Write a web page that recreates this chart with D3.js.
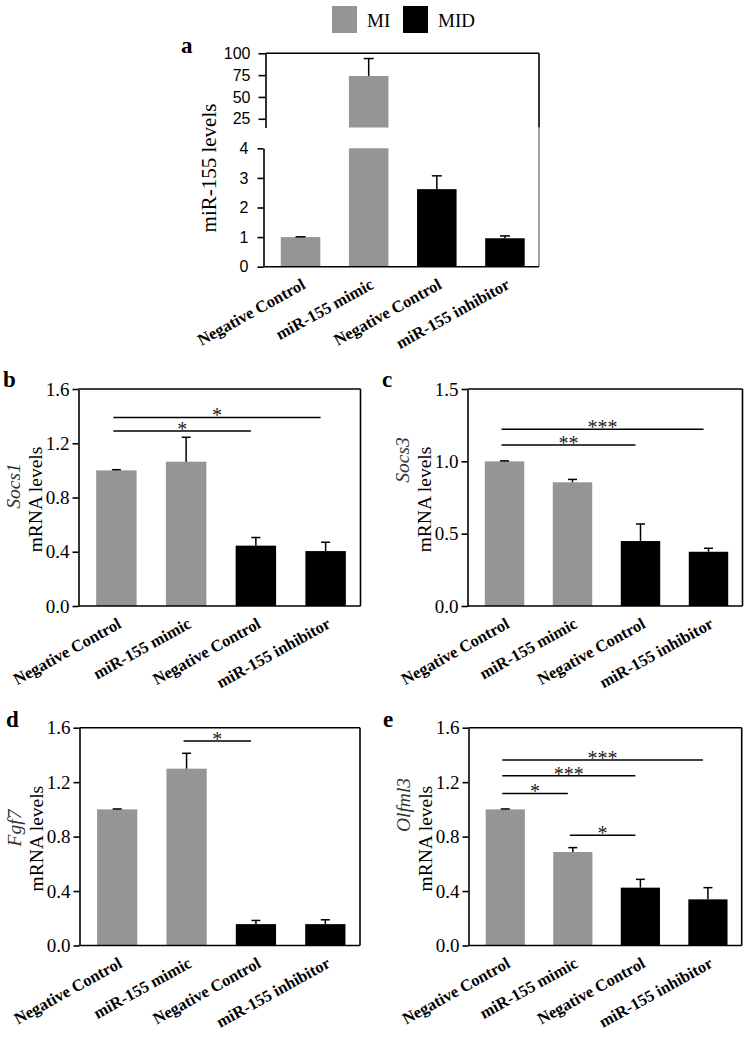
<!DOCTYPE html>
<html><head><meta charset="utf-8">
<script src="https://cdn.jsdelivr.net/npm/d3@7"></script>
<style>body{margin:0;background:#fff}svg{display:block}</style>
</head><body><svg id="chart" width="750" height="1039"></svg>
<script>
// ---------------- DATA ----------------
const categories = ["Negative Control", "miR-155 mimic", "Negative Control", "miR-155 inhibitor"];
const groups = ["MI", "MI", "MID", "MID"];
const legendLabels = ["MI", "MID"];

const mir155Mean = [1.0, 74, 2.62, 0.96];
const mir155Err  = [0.01, 20, 0.45, 0.08];

const socs1Mean = [1.0, 1.064, 0.445, 0.405];
const socs1Err  = [0.005, 0.18, 0.06, 0.065];

const socs3Mean = [1.0, 0.855, 0.449, 0.375];
const socs3Err  = [0.003, 0.02, 0.118, 0.024];

const fgf7Mean = [1.0, 1.299, 0.157, 0.157];
const fgf7Err  = [0.003, 0.113, 0.027, 0.032];

const olfml3Mean = [1.0, 0.687, 0.425, 0.339];
const olfml3Err  = [0.003, 0.032, 0.061, 0.086];

const ticksAUpper = [25, 50, 75, 100];
const ticksALower = [0, 1, 2, 3, 4];
const ticks16 = [0, 0.4, 0.8, 1.2, 1.6];
const ticks15 = [0, 0.5, 1.0, 1.5];

const socs1Sig  = [{from: 0, to: 3, y: 1.39, label: "*"}, {from: 0, to: 2, y: 1.29, label: "*"}];
const socs3Sig  = [{from: 0, to: 3, y: 1.221, label: "***"}, {from: 0, to: 2, y: 1.113, label: "**"}];
const fgf7Sig   = [{from: 1, to: 2, y: 1.502, label: "*"}];
const olfml3Sig = [{from: 0, to: 3, y: 1.362, label: "***"}, {from: 0, to: 2, y: 1.247, label: "***"},
                   {from: 0, to: 1, y: 1.117, label: "*"}, {from: 1, to: 2, y: 0.81, label: "*"}];

// ---------------- STYLE ----------------
const color = d3.scaleOrdinal().domain(legendLabels).range(["#959595", "#000000"]);
const SERIF = "Liberation Serif, Times New Roman, serif";
const SANS = "Liberation Sans, Arial, sans-serif";
const AX = 1.6;

const svg = d3.select("#chart");

// legend
const leg = svg.append("g");
const legX = d3.scaleOrdinal().domain(legendLabels).range([332, 403]);
legendLabels.forEach(l => {
  leg.append("rect").attr("x", legX(l)).attr("y", 6).attr("width", 25).attr("height", 27).attr("fill", color(l));
  leg.append("text").attr("x", legX(l) + 35).attr("y", 27).text(l)
    .style("font-family", SERIF).attr("font-size", 19).attr("fill", "#000");
});

function panelLetter(t, x, y) {
  svg.append("text").attr("x", x).attr("y", y).text(t)
    .style("font-family", SERIF).attr("font-weight", "bold").attr("font-size", 23).attr("fill", "#000");
}

function xLabels(g, x, yBase) {
  g.selectAll("text.cat").data(categories).enter().append("text")
    .attr("class", "cat")
    .attr("text-anchor", "end")
    .attr("transform", (d, i) => `translate(${x(i) + x.bandwidth() / 2 + 6},${yBase + 21}) rotate(-29)`)
    .style("font-family", SERIF).attr("font-weight", "bold").attr("font-size", 16.5).attr("fill", "#000")
    .text(d => d);
}

function styleAxis(ax, font, size) {
  ax.select(".domain").attr("stroke", "#000").attr("stroke-width", AX);
  ax.selectAll(".tick line").attr("stroke", "#000").attr("stroke-width", AX);
  ax.selectAll(".tick text").style("font-family", font).attr("font-size", size).attr("fill", "#000");
}

// ---------------- PANEL a ----------------
(function () {
  const x0 = 263.5, x1 = 539;
  const g = svg.append("g");
  const x = d3.scaleBand().domain(d3.range(4)).range([x0 + 3, x1]).paddingInner(0.42).paddingOuter(0.21);
  const yU = d3.scaleLinear().domain([15, 100]).range([127.5, 53.3]);
  const yL = d3.scaleLinear().domain([0, 4]).range([266.7, 148.3]);
  const bw = x.bandwidth();

  mir155Mean.forEach((v, i) => {
    const vv = Math.min(v, 4);
    const cx = x(i) + bw / 2;
    g.append("rect").attr("x", x(i)).attr("y", yL(vv)).attr("width", bw).attr("height", yL(0) - yL(vv))
      .attr("fill", color(groups[i]));
    const ys = v <= 4 ? yL : yU;
    if (v > 4) {
      g.append("rect").attr("x", x(i)).attr("y", yU(v)).attr("width", bw).attr("height", yU(15) - yU(v))
        .attr("fill", color(groups[i]));
    }
    const top = ys(v + mir155Err[i]);
    g.append("line").attr("x1", cx).attr("x2", cx).attr("y1", ys(v)).attr("y2", top)
      .attr("stroke", "#000").attr("stroke-width", 1.5);
    g.append("line").attr("x1", cx - 5).attr("x2", cx + 5).attr("y1", top).attr("y2", top)
      .attr("stroke", "#000").attr("stroke-width", 1.5);
  });

  const axU = g.append("g").attr("transform", `translate(${x0 + 2},0)`)
    .call(d3.axisLeft(yU).tickValues(ticksAUpper).tickFormat(d3.format("d")).tickSize(7).tickSizeOuter(0).tickPadding(8));
  styleAxis(axU, SANS, 16);
  const axL = g.append("g").attr("transform", `translate(${x0},0)`)
    .call(d3.axisLeft(yL).tickValues(ticksALower).tickFormat(d3.format("d")).tickSize(6).tickSizeOuter(0).tickPadding(9));
  styleAxis(axL, SANS, 16);

  g.append("line").attr("x1", x0 + 2).attr("x2", x1).attr("y1", yU(100)).attr("y2", yU(100)).attr("stroke", "#000").attr("stroke-width", AX);
  g.append("line").attr("x1", x1).attr("x2", x1).attr("y1", yU(100)).attr("y2", yU(15)).attr("stroke", "#000").attr("stroke-width", AX);
  g.append("line").attr("x1", x1).attr("x2", x1).attr("y1", yU(15)).attr("y2", yL(0)).attr("stroke", "#555").attr("stroke-width", 1.1);
  g.append("line").attr("x1", x0).attr("x2", x1).attr("y1", yL(0)).attr("y2", yL(0)).attr("stroke", "#000").attr("stroke-width", AX);

  g.append("text").attr("transform", `translate(216,168) rotate(-90)`).attr("text-anchor", "middle")
    .style("font-family", SERIF).attr("font-size", 21).attr("fill", "#000").text("miR-155 levels");

  xLabels(g, x, yL(0));
  panelLetter("a", 181, 53);
})();

// ---------------- PANELS b-e ----------------
function drawPanel(o) {
  const g = svg.append("g");
  const x = d3.scaleBand().domain(d3.range(4)).range([o.x0 + 3, o.x1]).paddingInner(0.42).paddingOuter(0.21);
  const y = d3.scaleLinear().domain([0, o.max]).range([o.y1, o.y0]);
  const bw = x.bandwidth();
  const cx = i => x(i) + bw / 2;

  g.selectAll("rect.bar").data(o.mean).enter().append("rect").attr("class", "bar")
    .attr("x", (d, i) => x(i)).attr("y", d => y(d)).attr("width", bw).attr("height", d => y(0) - y(d))
    .attr("fill", (d, i) => color(groups[i]));

  o.mean.forEach((v, i) => {
    const top = y(v + o.err[i]);
    g.append("line").attr("x1", cx(i)).attr("x2", cx(i)).attr("y1", y(v)).attr("y2", top).attr("stroke", "#000").attr("stroke-width", 1.5);
    g.append("line").attr("x1", cx(i) - 4.5).attr("x2", cx(i) + 4.5).attr("y1", top).attr("y2", top).attr("stroke", "#000").attr("stroke-width", 1.5);
  });

  const ax = g.append("g").attr("transform", `translate(${o.x0},0)`)
    .call(d3.axisLeft(y).tickValues(o.ticks).tickFormat(d3.format(".1f")).tickSize(6).tickSizeOuter(0).tickPadding(3));
  styleAxis(ax, SERIF, 19);

  g.append("line").attr("x1", o.x0).attr("x2", o.x1).attr("y1", o.y0).attr("y2", o.y0).attr("stroke", "#000").attr("stroke-width", AX);
  g.append("line").attr("x1", o.x1).attr("x2", o.x1).attr("y1", o.y0).attr("y2", o.y1).attr("stroke", "#000").attr("stroke-width", AX);
  g.append("line").attr("x1", o.x0).attr("x2", o.x1).attr("y1", o.y1).attr("y2", o.y1).attr("stroke", "#000").attr("stroke-width", AX);

  o.sig.forEach(s => {
    const xa = cx(s.from) - 3, xb = cx(s.to) - 5;
    g.append("line").attr("x1", xa).attr("x2", xb).attr("y1", y(s.y)).attr("y2", y(s.y)).attr("stroke", "#000").attr("stroke-width", 1.5);
    g.append("text").attr("x", (xa + xb) / 2).attr("y", y(s.y) + 5).attr("text-anchor", "middle")
      .style("font-family", SERIF).attr("font-size", 20).attr("fill", "#222").text(s.label);
  });

  const mid = (o.y0 + o.y1) / 2;
  g.append("text").attr("transform", `translate(${o.x0 - 37},${mid + 2}) rotate(-90)`).attr("text-anchor", "middle")
    .style("font-family", SERIF).attr("font-size", 19.5).attr("fill", "#000").text("mRNA levels");
  g.append("text").attr("transform", `translate(${o.x0 - 59},${o.geneY}) rotate(-90)`).attr("text-anchor", "middle")
    .style("font-family", SERIF).attr("font-style", "italic").attr("font-size", 19.5).attr("fill", "#333").text(o.gene);

  xLabels(g, x, o.y1);
  panelLetter(o.letter, o.lx, o.ly);
}

drawPanel({letter: "b", lx: 3, ly: 387, gene: "Socs1", geneY: 486, mean: socs1Mean, err: socs1Err, sig: socs1Sig,
  max: 1.6, ticks: ticks16, x0: 78.5, x1: 360.5, y0: 389, y1: 606});
drawPanel({letter: "c", lx: 382, ly: 387, gene: "Socs3", geneY: 460, mean: socs3Mean, err: socs3Err, sig: socs3Sig,
  max: 1.5, ticks: ticks15, x0: 467.5, x1: 742.5, y0: 389, y1: 606});
drawPanel({letter: "d", lx: 6, ly: 727, gene: "Fgf7", geneY: 828, mean: fgf7Mean, err: fgf7Err, sig: fgf7Sig,
  max: 1.6, ticks: ticks16, x0: 79.5, x1: 360, y0: 727.7, y1: 945.5});
drawPanel({letter: "e", lx: 383, ly: 727, gene: "Olfml3", geneY: 805, mean: olfml3Mean, err: olfml3Err, sig: olfml3Sig,
  max: 1.6, ticks: ticks16, x0: 468.5, x1: 741.7, y0: 727.7, y1: 945.5});
</script></body></html>
